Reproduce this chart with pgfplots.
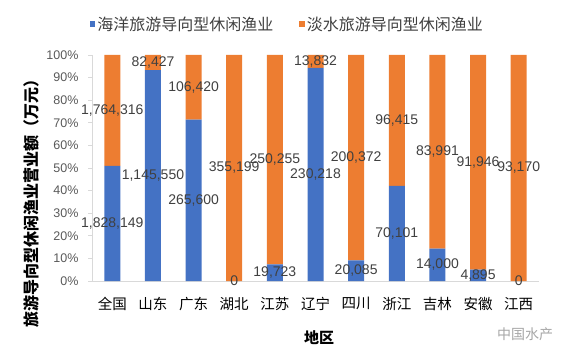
\documentclass[border=0pt]{standalone}
\usepackage{fontspec}
\setmainfont{Liberation Sans}
\newfontfamily\cjk{Noto Sans CJK SC}
\usepackage{pgfplots}
\usepackage{pgfplotstable}
\pgfplotsset{compat=1.18}
\definecolor{cblue}{HTML}{4472C4}
\definecolor{corange}{HTML}{ED7D31}
\definecolor{axgray}{HTML}{D9D9D9}
\definecolor{ticktext}{HTML}{595959}
\definecolor{labtext}{HTML}{404040}

\pgfplotstableread{
x sea fresh seapct freshpct sealab freshlab
0 1828149 1764316 50.889 49.111 1,828,149 1,764,316
1 1145550 82427 93.288 6.712 1,145,550 82,427
2 265600 106420 71.394 28.606 265,600 106,420
3 0 355199 0 100 0 355,199
4 19723 250255 7.305 92.695 19,723 250,255
5 230218 13832 94.332 5.668 230,218 13,832
6 20085 200372 9.111 90.889 20,085 200,372
7 70101 96415 42.099 57.901 70,101 96,415
8 14000 83991 14.287 85.713 14,000 83,991
9 4895 91946 5.055 94.945 4,895 91,946
10 0 93170 0 100 0 93,170
}\datatable

\begin{document}
\begin{tikzpicture}
\path[use as bounding box] (0pt,0pt) rectangle (569pt,356pt);
\begin{axis}[
  at={(92pt,75pt)}, anchor=south west,
  scale only axis, width=447pt, height=226pt,
  xmin=-0.5, xmax=10.5, ymin=0, ymax=100,
  ybar stacked, bar width=16pt,
  axis x line*=bottom, axis y line*=left,
  axis line style={draw=axgray, line width=0.8pt},
  xtick={0,...,10},
  xticklabels={全国,山东,广东,湖北,江苏,辽宁,四川,浙江,吉林,安徽,江西},
  xticklabel style={font=\cjk\fontsize{14.5}{16}\selectfont, text=black, yshift=-9pt},
  major x tick style={draw=none},
  ytick={0,10,...,100},
  yticklabel={\pgfmathprintnumber{\tick}\%},
  /pgf/number format/assume math mode=true,
  yticklabel style={font=\fontsize{12.5}{14}\selectfont, text=ticktext, xshift=-6pt},
  tick align=outside, major tick length=4pt,
  major y tick style={draw=axgray, line width=0.8pt},
  ylabel={\cjk\bfseries 旅游导向型休闲渔业营业额（万元）},
  ylabel style={font=\fontsize{16}{18}\selectfont, at={(axis description cs:-0.135,0.36)}, anchor=center, rotate=0},
  xlabel={\cjk\bfseries 地区},
  xlabel style={font=\fontsize{15}{17}\selectfont, at={(axis description cs:0.508,-0.25)}, anchor=center},
  legend style={draw=none, fill=none, at={(axis description cs:0.437,1.137)}, anchor=center,
    legend columns=2, font=\cjk\fontsize{16}{18}\selectfont, text=labtext,
    /tikz/every even column/.append style={column sep=24pt},
    nodes={inner sep=2pt}},
  legend cell align=left,
]
\addplot[fill=cblue, draw=none, legend image code/.code={\fill[cblue] (0pt,-2.8pt) rectangle (5.5pt,2.8pt);}]
  table[x=x, y=seapct]{\datatable};
\addlegendentry{海洋旅游导向型休闲渔业}
\addplot[fill=corange, draw=none, legend image code/.code={\fill[corange] (0pt,-2.8pt) rectangle (5.5pt,2.8pt);}]
  table[x=x, y=freshpct]{\datatable};
\addlegendentry{淡水旅游导向型休闲渔业}
\end{axis}
\begin{axis}[
  at={(92pt,75pt)}, anchor=south west,
  scale only axis, width=447pt, height=226pt,
  xmin=-0.5, xmax=10.5, ymin=0, ymax=100,
  axis lines=none, clip=false,
  every node near coord/.append style={anchor=center, font=\fontsize{14}{16}\selectfont, text=labtext, inner sep=0pt},
]
\addplot[draw=none, mark=none, nodes near coords, point meta=explicit symbolic]
  table[x=x, y expr=\thisrow{seapct}/2, meta=sealab]{\datatable};
\addplot[draw=none, mark=none, nodes near coords, point meta=explicit symbolic]
  table[x=x, y expr=\thisrow{seapct}+\thisrow{freshpct}/2, meta=freshlab]{\datatable};
\end{axis}
\node[font=\cjk\fontsize{14}{16}\selectfont, text=gray!70] at (525pt,22pt) {中国水产};
\end{tikzpicture}
\end{document}
